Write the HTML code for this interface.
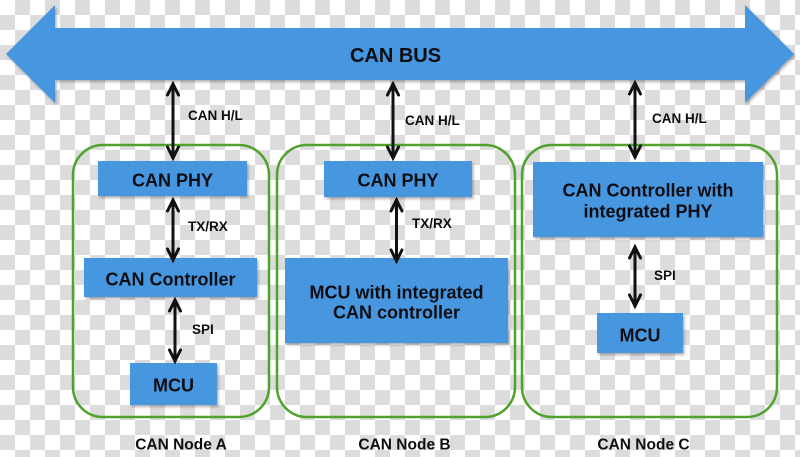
<!DOCTYPE html>
<html><head><meta charset="utf-8"><style>
html,body{margin:0;padding:0;background:#fff;}
svg{display:block;}
text{font-family:"Liberation Sans",Arial,sans-serif;font-weight:bold;fill:#0d0d12;}
</style></head><body>
<svg width="800" height="457" viewBox="0 0 800 457" xmlns="http://www.w3.org/2000/svg">
<defs>
<pattern id="chk" width="30" height="30" patternUnits="userSpaceOnUse">
<rect width="30" height="30" fill="#ffffff"/>
<rect x="15" y="0" width="15" height="15" fill="#dcdcdc"/>
<rect x="0" y="15" width="15" height="15" fill="#dcdcdc"/>
</pattern>
<filter id="sh" x="-10%" y="-10%" width="120%" height="130%">
<feDropShadow dx="1.5" dy="2" stdDeviation="1.2" flood-color="#555" flood-opacity="0.45"/>
</filter>
</defs>
<rect width="800" height="457" fill="url(#chk)"/>

<!-- Bus arrow -->
<polygon filter="url(#sh)" fill="#4796e0" points="6,54 55,5 55,28 745,28 745,5 794,54 745,103 745,80 55,80 55,103"/>
<text x="395.5" y="62" font-size="20" text-anchor="middle">CAN BUS</text>

<!-- Green node containers -->
<g fill="none" stroke="#4fa22c" stroke-width="2.5">
<rect x="73" y="145" width="196" height="272" rx="30" ry="30"/>
<rect x="277" y="145" width="238" height="272" rx="30" ry="30"/>
<rect x="522" y="145" width="255" height="272" rx="30" ry="30"/>
</g>

<!-- Blue boxes -->
<g fill="#4796e0" filter="url(#sh)">
<rect x="98" y="161" width="149" height="35"/>
<rect x="84" y="258" width="173" height="39"/>
<rect x="130" y="363" width="87" height="42"/>
<rect x="324" y="161" width="148" height="36"/>
<rect x="285" y="258" width="223" height="85"/>
<rect x="533" y="162" width="230" height="75"/>
<rect x="597" y="313" width="86" height="40"/>
</g>

<!-- Box labels -->
<g font-size="18" text-anchor="middle">
<text x="172.5" y="186.5">CAN PHY</text>
<text x="170.5" y="285.5">CAN Controller</text>
<text x="173.5" y="391.5">MCU</text>
<text x="398" y="186.5">CAN PHY</text>
<text x="396.5" y="298.5">MCU with integrated</text>
<text x="396.5" y="318.5">CAN controller</text>
<text x="648" y="196.5">CAN Controller with</text>
<text x="648" y="217.5">integrated PHY</text>
<text x="640" y="341.5">MCU</text>
</g>

<!-- Connector arrows -->
<g stroke="#111" stroke-width="3" fill="none" stroke-linecap="round" stroke-linejoin="miter">
<line x1="173" y1="84" x2="173" y2="158"/>
<polyline points="167.5,95 173,84 178.5,95"/><polyline points="167.5,147 173,158 178.5,147"/>
<line x1="393" y1="84" x2="393" y2="158"/>
<polyline points="387.5,95 393,84 398.5,95"/><polyline points="387.5,147 393,158 398.5,147"/>
<line x1="635" y1="83" x2="635" y2="157"/>
<polyline points="629.5,94 635,83 640.5,94"/><polyline points="629.5,146 635,157 640.5,146"/>

<line x1="173" y1="200" x2="173" y2="260"/>
<polyline points="167.5,211 173,200 178.5,211"/><polyline points="167.5,249 173,260 178.5,249"/>
<line x1="175" y1="300" x2="175" y2="361"/>
<polyline points="169.5,311 175,300 180.5,311"/><polyline points="169.5,350 175,361 180.5,350"/>

<line x1="396.5" y1="200" x2="396.5" y2="261"/>
<polyline points="391,211 396.5,200 402,211"/><polyline points="391,250 396.5,261 402,250"/>

<line x1="635" y1="247" x2="635" y2="306"/>
<polyline points="629.5,258 635,247 640.5,258"/><polyline points="629.5,295 635,306 640.5,295"/>
</g>

<!-- Connector labels -->
<g font-size="13.5">
<text x="188" y="120">CAN H/L</text>
<text x="405" y="125">CAN H/L</text>
<text x="652" y="123">CAN H/L</text>
<text x="188" y="231">TX/RX</text>
<text x="192" y="334">SPI</text>
<text x="412" y="228">TX/RX</text>
<text x="654" y="280">SPI</text>
</g>

<!-- Node names -->
<g font-size="15.5" text-anchor="middle">
<text x="181" y="449.5">CAN Node A</text>
<text x="404.5" y="449.5">CAN Node B</text>
<text x="643.5" y="449.5">CAN Node C</text>
</g>
</svg>
</body></html>
